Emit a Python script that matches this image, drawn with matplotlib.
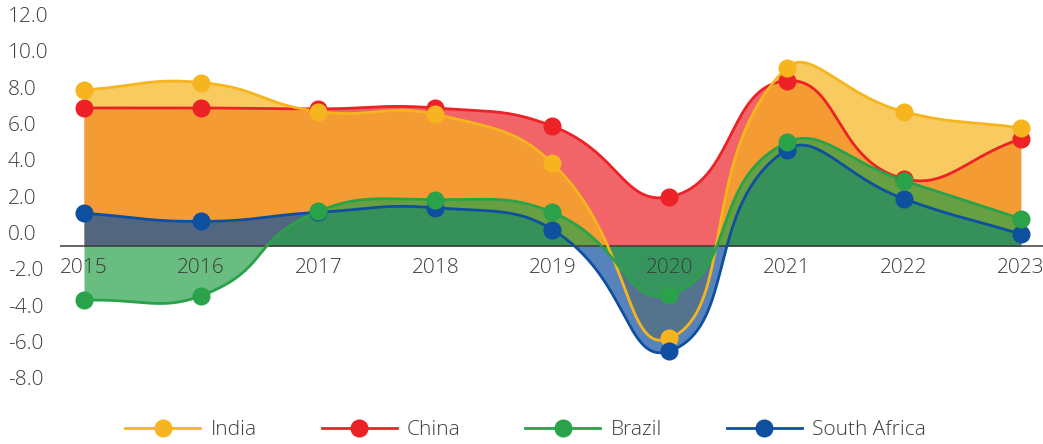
import matplotlib
matplotlib.use("Agg")
import matplotlib.pyplot as plt
import matplotlib.transforms as mtransforms
from matplotlib.lines import Line2D
import numpy as np

plt.rcParams['font.family'] = ['Open Sans', 'DejaVu Sans']
plt.rcParams['font.weight'] = 'light'

years = ["2015", "2016", "2017", "2018", "2019", "2020", "2021", "2022", "2023"]
india = [8.0, 8.4, 6.8, 6.65, 3.95, -5.7, 9.2, 6.8, 5.9]
china = [7.0, 7.0, 6.95, 7.0, 6.0, 2.1, 8.5, 3.1, 5.3]
brazil = [-3.6, -3.35, 1.3, 1.95, 1.25, -3.3, 5.1, 3.0, 0.9]
south_africa = [1.2, 0.75, 1.25, 1.5, 0.3, -6.4, 4.7, 2.0, 0.05]
yticks = [12.0, 10.0, 8.0, 6.0, 4.0, 2.0, 0.0, -2.0, -4.0, -6.0, -8.0]

# name, values, colour  (draw order matters for the overlapping fills)
series = [
    ("China", china, "#EC2227"),
    ("India", india, "#F6B51E"),
    ("South Africa", south_africa, "#0E4FA0"),
    ("Brazil", brazil, "#2AA24A"),
]
legend_order = ["India", "China", "Brazil", "South Africa"]

BASE = -0.6       # where the axis line / area floor sits
SX, SY = 117.1, 18.15   # px per category / px per unit


def smooth(vals, t=0.48, ky=2.0, n=40):
    # bezier through the points, control points chart.js style
    x = np.arange(len(vals)) * SX
    y = np.array(vals) * SY
    pts = np.column_stack([x, y])
    cps = []
    for i in range(len(pts)):
        cur = pts[i]
        prev = pts[i - 1] if i > 0 else cur
        nxt = pts[i + 1] if i < len(pts) - 1 else cur
        d01 = np.hypot(cur[0] - prev[0], ky * (cur[1] - prev[1]))
        d12 = np.hypot(nxt[0] - cur[0], ky * (nxt[1] - cur[1]))
        s01 = d01 / (d01 + d12)
        s12 = d12 / (d01 + d12)
        cps.append((cur - t * s01 * (nxt - prev), cur + t * s12 * (nxt - prev)))
    out = [pts[0]]
    tt = np.linspace(0, 1, n)[1:, None]
    for i in range(len(pts) - 1):
        p0, p1, p2, p3 = pts[i], cps[i][1], cps[i + 1][0], pts[i + 1]
        seg = ((1 - tt) ** 3) * p0 + 3 * ((1 - tt) ** 2) * tt * p1 \
            + 3 * (1 - tt) * tt ** 2 * p2 + tt ** 3 * p3
        out.extend(seg)
    out = np.array(out)
    return out[:, 0] / SX, out[:, 1] / SY


fig = plt.figure(figsize=(10.43, 4.44), dpi=100)
ax = fig.add_axes([60 / 1043, 0, 983 / 1043, 1])
ax.set_xlim(-0.205, 8.19)
ax.set_ylim((235 - 444) / SY, 235 / SY)
ax.axis("off")

xs = np.arange(len(years))
for name, vals, col in series:
    sx, sy = smooth(vals)
    ax.fill_between(sx, sy, BASE, color=col, alpha=0.7, linewidth=0)

ax.axhline(BASE, color="#3a3a3a", lw=1.1, zorder=3)

handles = {}
for name, vals, col in series:
    sx, sy = smooth(vals)
    ax.plot(sx, sy, color=col, lw=2.0, zorder=4, solid_capstyle="round")
    ax.plot(xs, vals, "o", color=col, ms=12, zorder=5)
    handles[name] = Line2D([], [], color=col, lw=2.0, marker="o", ms=12)

for i, y in enumerate(years):
    ax.text(i, -1.82, y, ha="center", va="center", fontsize=15, color="#3d3d3d")

tr = mtransforms.blended_transform_factory(fig.transFigure, ax.transData)
for v in yticks:
    ax.text(8 / 1043, v, f"{v:.1f}", transform=tr, ha="left", va="center",
            fontsize=15, color="#3d3d3d")

fig.legend([handles[n] for n in legend_order], legend_order, loc="center",
           bbox_to_anchor=(0.504, 1 - 430 / 444), ncol=4, frameon=False,
           fontsize=15, handlelength=3.6, handletextpad=0.5, columnspacing=3.1,
           labelcolor="#3d3d3d")

fig.savefig("out.png", dpi=100)
